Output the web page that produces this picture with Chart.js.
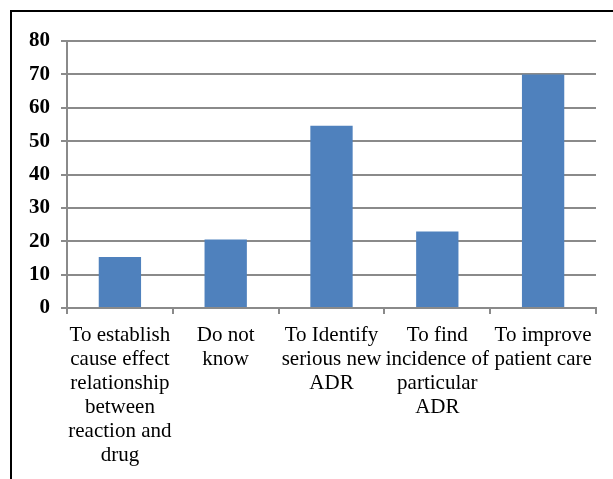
<!DOCTYPE html>
<html>
<head>
<meta charset="utf-8">
<script src="https://cdn.jsdelivr.net/npm/chart.js@4"></script>
<style>
  html, body { margin: 0; padding: 0; background: #fff; }
  #wrap { position: relative; width: 613px; height: 479px; overflow: hidden; }
  #frame {
    position: absolute; left: 10px; top: 10px; width: 700px; height: 600px;
    border-top: 2px solid #000; border-left: 2px solid #000;
  }
  canvas { position: absolute; left: 0; top: 0; }
</style>
</head>
<body>
<div id="wrap">
  <div id="frame"></div>
  <canvas id="chart" width="613" height="479"></canvas>
</div>
<script>
const categories = [
  ['To establish', 'cause effect', 'relationship', 'between', 'reaction and', 'drug'],
  ['Do not', 'know'],
  ['To Identify', 'serious new', 'ADR'],
  ['To find', 'incidence of', 'particular', 'ADR'],
  ['To improve', 'patient care'],
]
const values = [15.3, 20.5, 54.6, 22.9, 70]
const yTicks = { min: 0, max: 80, step: 10 }

const serif = '"Liberation Serif", "Times New Roman", Times, serif'
const gridGray = '#8a8a8a'

Chart.defaults.font.family = serif

const config = {
  type: 'bar',
  data: {
    labels: categories,
    datasets: [
      {
        data: values,
        backgroundColor: '#4F81BD',
        borderWidth: 0,
        barPercentage: 0.4,
        categoryPercentage: 1,
      },
    ],
  },
  options: {
    animation: false,
    responsive: false,
    layout: { padding: { top: 41, right: 17, left: 0, bottom: 0 } },
    plugins: {
      legend: { display: false },
      tooltip: { enabled: false },
    },
    scales: {
      x: {
        grid: {
          drawOnChartArea: false,
          drawTicks: true,
          tickLength: 6,
          color: gridGray,
          lineWidth: 2,
        },
        border: { color: gridGray, width: 2 },
        ticks: {
          color: '#000',
          font: { family: serif, size: 21, lineHeight: 1.15 },
          maxRotation: 0,
          minRotation: 0,
          autoSkip: false,
          padding: 9,
        },
        afterFit: (scale) => {
          scale.height = 171
        },
      },
      y: {
        min: yTicks.min,
        max: yTicks.max,
        grid: {
          color: gridGray,
          lineWidth: 2,
          tickLength: 6,
        },
        border: { color: gridGray, width: 2 },
        ticks: {
          stepSize: yTicks.step,
          color: '#000',
          padding: 11,
          font: { family: serif, size: 21, weight: 'bold' },
        },
        afterFit: (scale) => {
          scale.width = 67
        },
      },
    },
  },
}

const draw = () => new Chart(document.getElementById('chart'), config)
Promise.all([
  document.fonts.load('21px "Liberation Serif"'),
  document.fonts.load('bold 21px "Liberation Serif"'),
]).then(draw, draw)
</script>
</body>
</html>
